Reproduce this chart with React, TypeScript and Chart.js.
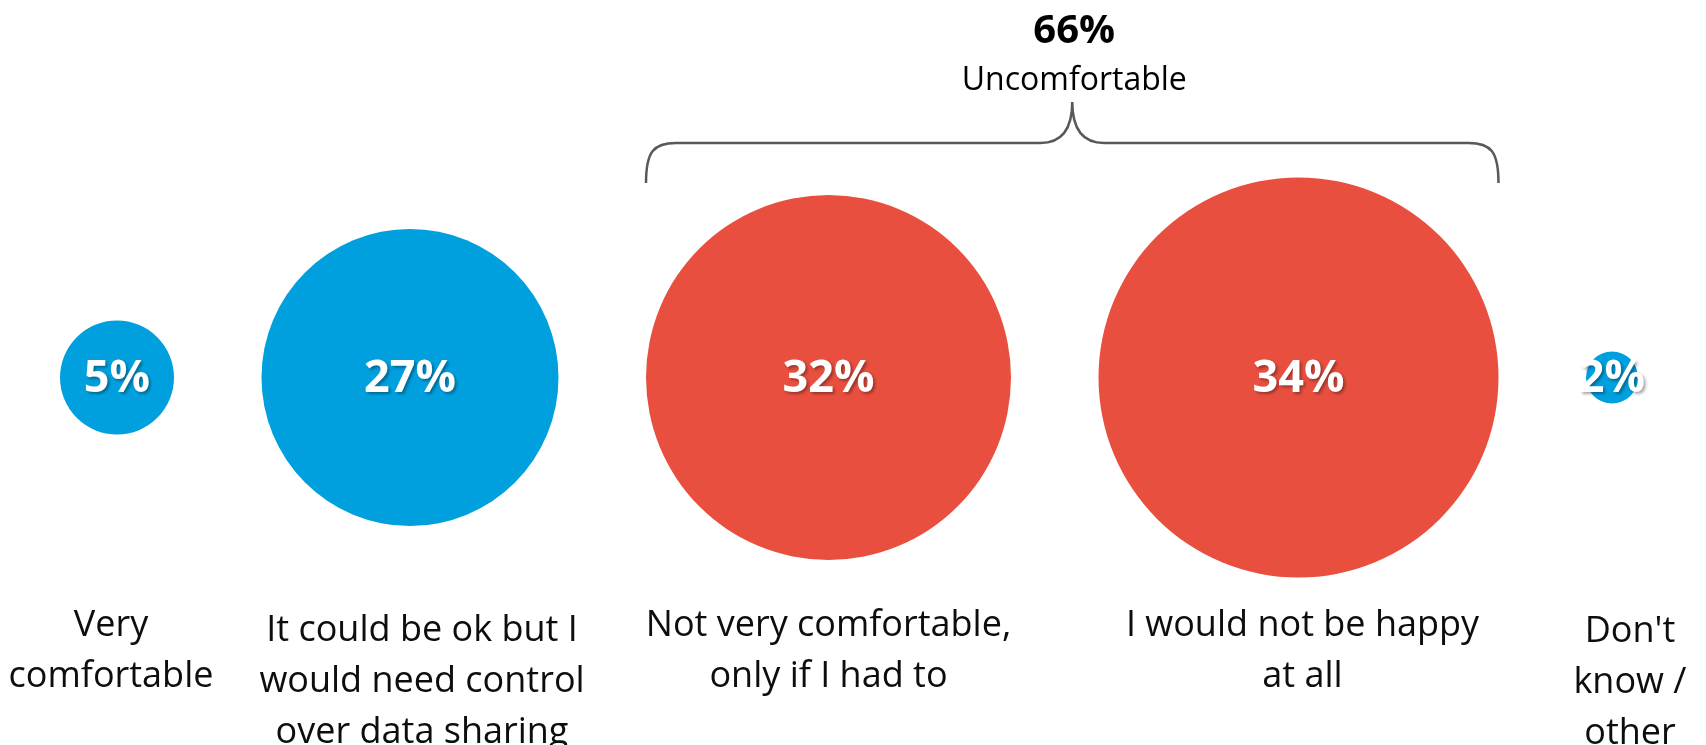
import React, { useEffect, useRef } from "react";
import { Chart, registerables } from "chart.js";

Chart.register(...registerables);

// ---- data ----
const categories: string[][] = [
  ["Very", "comfortable"],
  ["It could be ok but I", "would need control", "over data sharing"],
  ["Not very comfortable,", "only if I had to"],
  ["I would not be happy", "at all"],
  ["Don't", "know /", "other"],
];
const values: number[] = [5, 27, 32, 34, 2];
const groups: string[] = ["comfortable", "comfortable", "uncomfortable", "uncomfortable", "other"];
const groupTitle = "Uncomfortable";

// ---- styling / layout ----
const W = 1706;
const H = 745;
const bubbleRadii = [57, 148.5, 182.5, 200, 26];
const bubbleGap = 87.5;
const leftEdge = 60;
const labelDx = [-6, 12, 0, 4, 18];
const labelDy = [0, 5, 0, 0, 6];
const BLUE = "#00A0DF";
const RED = "#E94F3F";
const FONT = "'Open Sans', 'Noto Sans', sans-serif";

// x positions from packing bubbles with a constant gap
const xs: number[] = [];
{
  let edge = leftEdge;
  bubbleRadii.forEach((r) => {
    xs.push(edge + r);
    edge += 2 * r + bubbleGap;
  });
}

const uncomfortableIdx = groups.map((g, i) => (g === "uncomfortable" ? i : -1)).filter((i) => i >= 0);
const groupTotal = uncomfortableIdx.reduce((s, i) => s + values[i], 0);

const overlayPlugin = {
  id: "overlay",
  afterDatasetsDraw(chart: any) {
    const ctx = chart.ctx as CanvasRenderingContext2D;
    const meta = chart.getDatasetMeta(0);
    const els = meta.data as any[];

    // values inside bubbles
    ctx.save();
    ctx.textAlign = "center";
    ctx.textBaseline = "middle";
    ctx.fillStyle = "#ffffff";
    ctx.font = `bold 45px ${FONT}`;
    ctx.shadowColor = "rgba(0,0,0,0.35)";
    ctx.shadowOffsetX = 2;
    ctx.shadowOffsetY = 2;
    ctx.shadowBlur = 3;
    els.forEach((el, i) => {
      ctx.fillText(values[i] + "%", el.x, el.y + 2);
    });
    ctx.restore();

    // category labels
    ctx.save();
    ctx.textAlign = "center";
    ctx.textBaseline = "alphabetic";
    ctx.fillStyle = "#0d0d0d";
    ctx.font = `36px ${FONT}`;
    els.forEach((el, i) => {
      categories[i].forEach((line, j) => {
        ctx.fillText(line, el.x + labelDx[i], 636 + labelDy[i] + j * 51);
      });
    });
    ctx.restore();

    // brace over uncomfortable group
    const first = els[uncomfortableIdx[0]];
    const last = els[uncomfortableIdx[uncomfortableIdx.length - 1]];
    const x0 = first.x - bubbleRadii[uncomfortableIdx[0]];
    const x1 = last.x + bubbleRadii[uncomfortableIdx[uncomfortableIdx.length - 1]];
    const mid = (x0 + x1) / 2;
    const yEnd = 183;
    const yBar = 143;
    const yTip = 102;
    ctx.save();
    ctx.strokeStyle = "#595959";
    ctx.lineWidth = 2.5;
    ctx.beginPath();
    ctx.moveTo(x0, yEnd);
    ctx.bezierCurveTo(x0, yBar + 8, x0 + 8, yBar, x0 + 30, yBar);
    ctx.lineTo(mid - 32, yBar);
    ctx.bezierCurveTo(mid - 8, yBar, mid, yBar - 18, mid, yTip);
    ctx.moveTo(mid, yTip);
    ctx.bezierCurveTo(mid, yBar - 18, mid + 8, yBar, mid + 32, yBar);
    ctx.lineTo(x1 - 30, yBar);
    ctx.bezierCurveTo(x1 - 8, yBar, x1, yBar + 8, x1, yEnd);
    ctx.stroke();
    ctx.restore();

    // group title
    ctx.save();
    ctx.textAlign = "center";
    ctx.textBaseline = "alphabetic";
    ctx.fillStyle = "#000000";
    ctx.font = `bold 40px ${FONT}`;
    ctx.fillText(groupTotal + "%", mid + 2, 43);
    ctx.font = `32px ${FONT}`;
    ctx.fillText(groupTitle, mid + 2, 90);
    ctx.restore();
  },
};

export default function App() {
  const canvasRef = useRef<HTMLCanvasElement | null>(null);

  useEffect(() => {
    document.body.style.margin = "0";
    const canvas = canvasRef.current;
    if (!canvas) return;
    const chart = new Chart(canvas, {
      type: "bubble",
      data: {
        datasets: [
          {
            data: values.map((v, i) => ({ x: xs[i], y: 0, r: bubbleRadii[i] })),
            backgroundColor: groups.map((g) => (g === "uncomfortable" ? RED : BLUE)),
            borderWidth: 0,
            hoverRadius: 0,
            clip: false as any,
          },
        ],
      },
      options: {
        animation: false,
        responsive: true,
        maintainAspectRatio: false,
        events: [],
        layout: { autoPadding: false, padding: { top: 10, left: 0, right: 0, bottom: 0 } },
        scales: {
          x: { type: "linear", min: 0, max: W, display: false },
          y: { type: "linear", min: -1, max: 1, display: false },
        },
        plugins: {
          legend: { display: false },
          tooltip: { enabled: false },
          title: { display: false },
        },
      },
      plugins: [overlayPlugin],
    });
    return () => chart.destroy();
  }, []);

  return (
    <div style={{ width: W, height: H, position: "relative", background: "#fff" }}>
      <canvas ref={canvasRef} />
    </div>
  );
}
